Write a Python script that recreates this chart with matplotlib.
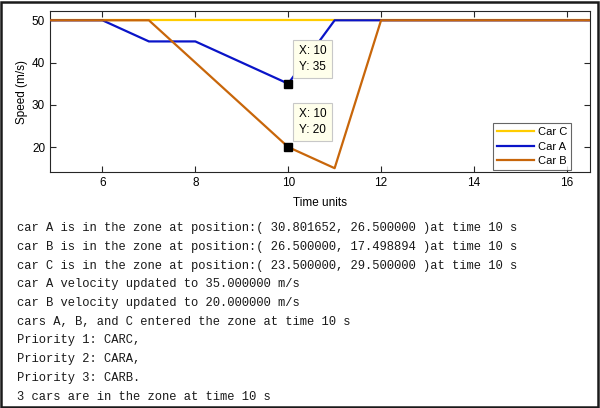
import matplotlib
matplotlib.use("Agg")
import matplotlib.pyplot as plt
from matplotlib.patches import Rectangle

# ---- data ----
car_c_t = [4.87, 16.5]
car_c_v = [50, 50]
car_a_t = [4.87, 6, 7, 8, 10, 11, 12, 16.5]
car_a_v = [50, 50, 45, 45, 35, 50, 50, 50]
car_b_t = [4.87, 7, 10, 11, 12, 16.5]
car_b_v = [50, 50, 20, 15, 50, 50]
tip_x = [10, 10]
tip_y = [35, 20]
x_ticks = [6, 8, 10, 12, 14, 16]
y_ticks = [20, 30, 40, 50]
log_lines = [
    "car A is in the zone at position:( 30.801652, 26.500000 )at time 10 s",
    "car B is in the zone at position:( 26.500000, 17.498894 )at time 10 s",
    "car C is in the zone at position:( 23.500000, 29.500000 )at time 10 s",
    "car A velocity updated to 35.000000 m/s",
    "car B velocity updated to 20.000000 m/s",
    "cars A, B, and C entered the zone at time 10 s",
    "Priority 1: CARC,",
    "Priority 2: CARA,",
    "Priority 3: CARB.",
    "3 cars are in the zone at time 10 s",
]

W, H = 600, 408
fig = plt.figure(figsize=(W / 100, H / 100), dpi=100)
fig.patch.set_facecolor("white")
plt.rcParams['font.family'] = ['Liberation Sans', 'DejaVu Sans']

# axes in pixel coords: left 50, right 590, top 11, bottom 172
ax = fig.add_axes([50 / W, 1 - 172 / H, 540 / W, 161 / H])
ax.plot(car_c_t, car_c_v, color="#FFCC00", lw=1.6, label="Car C", zorder=2)
ax.plot(car_a_t, car_a_v, color="#0A14C8", lw=1.6, label="Car A", zorder=3)
ax.plot(car_b_t, car_b_v, color="#C8660A", lw=1.6, label="Car B", zorder=4)
ax.plot(tip_x, tip_y, linestyle="none", marker="s", markersize=6,
        color="black", zorder=6)

ax.set_xlim(4.87, 16.5)
ax.set_ylim(14.1, 52.2)
ax.set_xticks(x_ticks)
ax.set_yticks(y_ticks)
ax.tick_params(direction="in", top=True, right=True, labelsize=8.5,
               length=4, width=0.8, colors="#262626", labelcolor="black")
for s in ax.spines.values():
    s.set_color("#262626")
    s.set_linewidth(0.8)
ax.set_xlabel("Time units", fontsize=8.5, labelpad=6)
ax.set_ylabel("Speed (m/s)", fontsize=8.5, labelpad=3)

for x, y in zip(tip_x, tip_y):
    ax.annotate(f"X: {x}\nY: {y}", xy=(x, y), xytext=(7.5, 8),
                textcoords="offset points", fontsize=8.5, va="bottom",
                ha="left", linespacing=1.4, zorder=7,
                bbox=dict(boxstyle="square,pad=0.45", fc="#FFFFEB",
                          ec="#C8C8C8", lw=0.8))

leg = ax.legend(loc="lower right", bbox_to_anchor=(571 / W, 1 - 170 / H),
                bbox_transform=fig.transFigure, fontsize=8,
                frameon=True, fancybox=False, edgecolor="#404040",
                handlelength=3.4, handletextpad=0.3, borderpad=0.35,
                labelspacing=0.4, borderaxespad=0.0)
leg.get_frame().set_linewidth(0.8)

# console text
for i, line in enumerate(log_lines):
    y = 228 + i * 18.75
    fig.text(17 / W, 1 - y / H, line, fontsize=8.7, family="Liberation Mono",
             va="center", ha="left", color="#1a1a1a")

# outer border
fig.patches.append(Rectangle((1 / W, 1.5 / H), 597 / W, 405 / H,
                             transform=fig.transFigure, fill=False,
                             ec="#1a1a1a", lw=1.8))

fig.savefig("out.png", dpi=100)
